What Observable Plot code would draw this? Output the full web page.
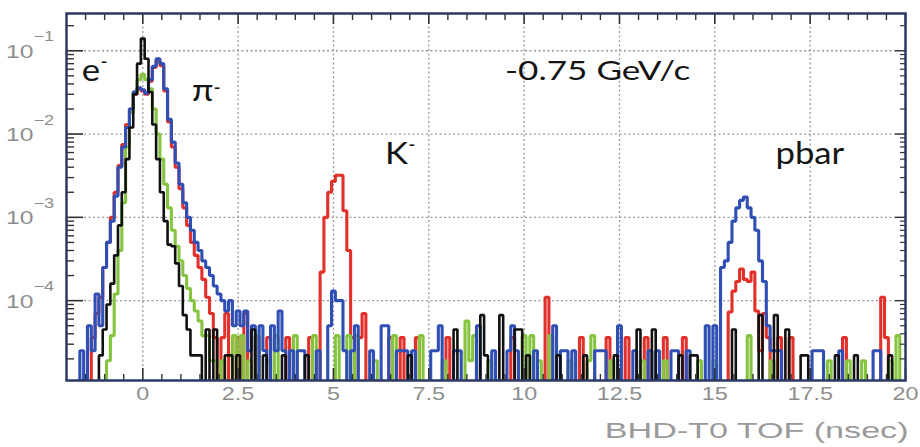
<!DOCTYPE html>
<html><head><meta charset="utf-8">
<script src="https://cdn.jsdelivr.net/npm/d3@7"></script>
<script src="https://cdn.jsdelivr.net/npm/@observablehq/plot@0.6"></script>
<style>body{margin:0;background:#fff}#chart svg{display:block}</style>
</head><body><div id="chart"></div>
<script>
// ---- data: [bin centre (ns), normalised counts]; bins are 0.1 ns wide, absent bins are empty ----
const BIN = 0.1;
const blackHist = [
 [-1.1,2.2e-5],[-1.0,4.5e-5],[-0.9,9e-5],[-0.8,1.6e-4],[-0.7,3.5e-4],[-0.6,8e-4],[-0.5,2e-3],[-0.4,5e-3],
 [-0.3,1.2e-2],[-0.2,3e-2],[-0.1,7e-2],[0.0,1.4e-1],[0.1,8e-2],[0.2,3.2e-2],[0.3,1.3e-2],[0.4,5e-3],
 [0.5,2e-3],[0.6,9e-4],[0.7,4.7e-4],[0.8,4.5e-4],[0.9,2.8e-4],[1.0,1.5e-4],[1.1,6.7e-5],[1.2,4.5e-5],
 [1.3,2.2e-5],[1.4,2.2e-5],[1.5,2.2e-5],[1.7,4.5e-5],[1.9,4.5e-5],[2.2,2.2e-5],[2.3,2.2e-5],
 [2.5,2.2e-5],[2.9,4.5e-5],[3.2,2.2e-5],[3.7,2.2e-5],[4.3,2.2e-5],[7.0,2.2e-5],[8.2,4.5e-5],[8.9,6.7e-5],[9.0,2.2e-5],
 [9.4,6.7e-5],[9.8,4.5e-5],[9.9,4.5e-5],[10.1,2.2e-5],[10.9,2.2e-5],[11.6,2.2e-5],[12.4,2.2e-5],[13.0,4.5e-5],[13.4,4.5e-5],
 [14.1,2.2e-5],[14.4,2.2e-5],[14.5,2.2e-5],[15.5,4.5e-5],[16.2,6.7e-5],[16.6,6.7e-5],[16.9,4.5e-5],
 [17.3,2.2e-5],[17.4,2.2e-5],[18.2,2.2e-5],[18.7,2.2e-5],[19.6,2.2e-5]
];
const redHist = [
 [-1.3,3.6e-5],[-1.2,7e-5],[-1.1,1.1e-4],[-1.0,2.5e-4],[-0.9,5e-4],[-0.8,1e-3],[-0.7,2e-3],[-0.6,4.2e-3],
 [-0.5,7.5e-3],[-0.4,1.3e-2],[-0.3,2e-2],[-0.2,3e-2],[-0.1,3.5e-2],[0.0,3.3e-2],[0.1,3e-2],[0.2,4.3e-2],
 [0.3,6.3e-2],[0.4,7.6e-2],[0.5,6.6e-2],[0.6,3.3e-2],[0.7,1.4e-2],[0.8,7e-3],[0.9,4e-3],[1.0,2.2e-3],
 [1.1,1.3e-3],[1.2,8e-4],[1.3,5e-4],[1.4,3.5e-4],[1.5,2.5e-4],[1.6,1.8e-4],[1.7,1.1e-4],[1.8,7e-5],
 [1.9,3.6e-5],[2.1,3.6e-5],[2.2,7e-5],[2.5,3.6e-5],[2.7,7e-5],[3.0,3.6e-5],[3.3,3.6e-5],[3.8,3.6e-5],
 [4.4,3.6e-5],[4.7,2.2e-4],[4.8,1e-3],[4.9,2e-3],[5.0,2.7e-3],[5.1,3.2e-3],[5.2,3.2e-3],[5.3,1.2e-3],
 [5.4,4e-4],[5.5,3.6e-5],[5.7,3.6e-5],[5.8,7e-5],[6.5,3.6e-5],[6.8,3.6e-5],[7.2,3.6e-5],[8.0,3.6e-5],
 [9.7,3.6e-5],[10.6,1.1e-4],[11.5,3.6e-5],[12.2,3.6e-5],[12.7,3.6e-5],[13.2,3.6e-5],[13.7,3.6e-5],
 [14.2,3.6e-5],[15.4,7.3e-5],[15.5,1.3e-4],[15.6,1.7e-4],[15.7,2.4e-4],[15.8,1.8e-4],[15.9,1.7e-4],
 [16.0,2.2e-4],[16.1,7.5e-5],[16.2,2.5e-5],[16.3,7e-5],[16.4,3.6e-5],[16.7,3.6e-5],[17.0,3.6e-5],
 [18.4,3.6e-5],[19.4,1.1e-4],[19.5,3.6e-5]
];
const greenHist = [
 [-0.9,1.9e-5],[-0.8,3.8e-5],[-0.7,1.2e-4],[-0.6,4e-4],[-0.5,1.5e-3],[-0.4,7e-3],[-0.3,1.8e-2],[-0.2,3.2e-2],
 [-0.1,4.5e-2],[0.0,5.2e-2],[0.1,4.5e-2],[0.2,3.5e-2],[0.3,2e-2],[0.4,1e-2],[0.5,5e-3],[0.6,2.5e-3],
 [0.7,1.3e-3],[0.8,7e-4],[0.9,4.5e-4],[1.0,3e-4],[1.1,2e-4],[1.2,1.4e-4],[1.3,1e-4],[1.4,7.5e-5],
 [1.5,5.7e-5],[1.6,3.8e-5],[1.7,3.8e-5],[1.8,1.9e-5],[1.9,1.9e-5],[2.1,1.9e-5],[2.4,3.8e-5],[2.6,3.8e-5],
 [2.8,1.9e-5],[3.0,3.8e-5],[3.3,1.9e-5],[3.5,3.8e-5],[4.0,3.8e-5],[4.5,3.8e-5],[5.1,3.8e-5],[5.4,3.8e-5],
 [5.6,3.8e-5],[6.1,1.9e-5],[6.6,3.8e-5],[7.3,3.8e-5],[7.9,1.9e-5],[8.5,5.7e-5],[8.6,1.9e-5],[8.7,3.8e-5],[9.1,1.9e-5],
 [10.0,3.8e-5],[10.2,3.8e-5],[10.4,1.9e-5],[10.7,3.8e-5],[11.2,1.9e-5],[11.7,1.9e-5],[11.8,3.8e-5],[12.3,1.9e-5],
 [13.1,1.9e-5],[13.7,1.9e-5],[14.6,1.9e-5],[15.0,1.9e-5],[15.9,3.8e-5],[16.5,1.9e-5],[18.0,1.9e-5],
 [18.5,1.9e-5],[18.9,1.9e-5],[19.6,1.9e-5],[19.8,3.8e-5]
];
const blueHist = [
 [-1.6,2.5e-5],[-1.4,5e-5],[-1.3,2.5e-5],[-1.2,1.2e-4],[-1.1,5e-5],[-1.0,2.5e-4],[-0.9,5e-4],[-0.8,9e-4],
 [-0.7,1.8e-3],[-0.6,4e-3],[-0.5,7e-3],[-0.4,1.2e-2],[-0.3,2e-2],[-0.2,3.2e-2],[-0.1,3.6e-2],[0.0,3.4e-2],
 [0.1,3.1e-2],[0.2,4.5e-2],[0.3,6.5e-2],[0.4,8e-2],[0.5,7e-2],[0.6,3.5e-2],[0.7,1.5e-2],[0.8,8e-3],
 [0.9,4.5e-3],[1.0,2.5e-3],[1.1,1.5e-3],[1.2,1e-3],[1.3,7e-4],[1.4,5e-4],[1.5,4e-4],[1.6,3e-4],
 [1.7,2.5e-4],[1.8,2e-4],[1.9,1.5e-4],[2.0,1.2e-4],[2.1,1e-4],[2.2,7.5e-5],[2.3,1e-4],[2.4,5e-5],
 [2.5,7.5e-5],[2.6,5e-5],[2.7,7.5e-5],[2.8,2.5e-5],[2.9,5e-5],[3.1,5e-5],[3.2,2.5e-5],[3.4,5e-5],
 [3.5,2.5e-5],[3.6,7.5e-5],[3.7,2.5e-5],[3.9,2.5e-5],[4.1,2.5e-5],[4.2,2.5e-5],[4.6,2.5e-5],[4.9,5e-5],
 [5.0,1.3e-4],[5.1,1e-4],[5.2,1e-4],[5.3,2.5e-5],[5.5,2.5e-5],[5.6,5e-5],[6.0,2.5e-5],[6.3,5e-5],
 [6.4,5e-5],[6.7,2.5e-5],[6.8,2.5e-5],[6.9,2.5e-5],[7.1,2.5e-5],[7.6,2.5e-5],[7.7,2.5e-5],[7.8,5e-5],
 [8.2,2.5e-5],[8.3,2.5e-5],[8.8,5e-5],[9.2,2.5e-5],[9.6,2.5e-5],[9.7,5e-5],[9.8,2.5e-5],[10.3,2.5e-5],[10.8,5e-5],
 [11.0,2.5e-5],[11.1,2.5e-5],[11.3,2.5e-5],[11.9,2.5e-5],[12.0,2.5e-5],[12.1,2.5e-5],[12.5,5e-5],[12.9,2.5e-5],
 [13.3,2.5e-5],[13.5,2.5e-5],[13.9,2.5e-5],[14.0,2.5e-5],[14.3,2.5e-5],[14.8,5e-5],[15.0,5e-5],[15.2,2.5e-4],
 [15.3,3e-4],[15.4,5e-4],[15.5,9e-4],[15.6,1.3e-3],[15.7,1.6e-3],[15.8,1.75e-3],[15.9,1.3e-3],
 [16.0,1e-3],[16.1,7e-4],[16.2,3e-4],[16.3,1.7e-4],[16.4,5e-5],[16.5,2.5e-5],[16.6,2.5e-5],[16.7,2.5e-5],
 [17.6,2.5e-5],[17.7,2.5e-5],[17.8,2.5e-5],[18.3,2.5e-5],[19.2,2.5e-5],[19.3,2.5e-5]
];
const seriesNames = ["red","green","blue","black"];
const seriesColors = ["#e2302b","#86c440","#2f4fb4","#111111"];

const xTicks = [0,2.5,5,7.5,10,12.5,15,17.5,20];
const xTickLabels = ["0","2.5","5","7.5","10","12.5","15","17.5","20"];
const yDecades = [1e-4,1e-3,1e-2,1e-1];
const yExponents = ["−4","−3","−2","−1"];
const xTitle = "BHD-T0 TOF (nsec)";
const labels = [
  {x:-1.6, y:0.0436, t:"e"},
  {x:1.29, y:0.0251, t:"π"},
  {x:6.35, y:0.0044, t:"K"},
  {x:16.59, y:0.0044, t:"pbar"}
];
const supers = [{x:-1.1, y:0.074, t:"-"},{x:1.86, y:0.036, t:"-"},{x:6.97, y:0.0074, t:"-"}];
const momentum = [{x:9.5, y:0.0449, t:"-0.75 GeV/c"}];

// ---- build ----
const FLOOR = 1e-7;
function steps(pairs, name) {
  const m = new Map(pairs.map(([c, v]) => [Math.round(c * 10), v]));
  const out = [];
  for (let k = -21; k <= 201; k++) {
    const c = k / 10, v = m.has(k) ? m.get(k) : FLOOR;
    out.push({s: name, x: c - BIN / 2, y: v}, {s: name, x: c + BIN / 2, y: v});
  }
  return out;
}
const hists = {red: redHist, green: greenHist, blue: blueHist, black: blackHist};

const W = 920, H = 447, mL = 66, mR = 15, mT = 13, mB = 67;
const fW = W - mL - mR, fH = H - mT - mB;
const yMinor = [];
for (const d of [1e-5,1e-4,1e-3,1e-2,1e-1]) for (let k = 2; k <= 9; k++) { const v = d * k; if (v > 1.1e-5 && v < 0.28) yMinor.push(v); }
const xMinor = d3.range(-1.5, 20.01, 0.5).filter(v => Math.abs(v / 2.5 - Math.round(v / 2.5)) > 1e-6);
const tickC = "#333";
const gray = "#8e8e8e";
const AX = "Liberation Sans";
const AX2 = "Liberation Sans, Arial";

const plot = Plot.plot({
  width: W, height: H, marginLeft: mL, marginRight: mR, marginTop: mT, marginBottom: mB,
  style: {background: "#fff"},
  x: {domain: [-2, 20], axis: null},
  y: {type: "log", domain: [1.1e-5, 0.28], axis: null},
  marks: [
    Plot.ruleX(xTicks.slice(0, -1), {stroke: "#9a9a9a", strokeWidth: 1.3, strokeDasharray: "2,2.5"}),
    Plot.ruleY(yDecades, {stroke: "#9a9a9a", strokeWidth: 1.3, strokeDasharray: "2,2.5"}),
    ...seriesNames.map((n, i) => Plot.line(steps(hists[n], n), {
      x: "x", y: "y", stroke: seriesColors[i], strokeWidth: n === "black" ? 2.6 : 3.1,
      clip: true, strokeLinejoin: "miter", strokeLinecap: "butt"
    })),
    // ticks
    Plot.tickX(xMinor, {x: d => d, insetTop: fH - 6, stroke: tickC, strokeWidth: 1.4}),
    Plot.tickX(xTicks, {x: d => d, insetTop: fH - 12, stroke: tickC, strokeWidth: 1.6}),
    Plot.tickX(xMinor, {x: d => d, insetBottom: fH - 7, stroke: tickC, strokeWidth: 1.4}),
    Plot.tickX(xTicks, {x: d => d, insetBottom: fH - 11, stroke: tickC, strokeWidth: 1.6}),
    Plot.tickY(yMinor, {y: d => d, insetRight: fW - 8, stroke: tickC, strokeWidth: 1.4}),
    Plot.tickY(yDecades, {y: d => d, insetRight: fW - 17, stroke: tickC, strokeWidth: 1.6}),
    Plot.tickY(yMinor, {y: d => d, insetLeft: fW - 5, stroke: tickC, strokeWidth: 1.2}),
    Plot.tickY(yDecades, {y: d => d, insetLeft: fW - 10, stroke: tickC, strokeWidth: 1.4}),
    Plot.frame({stroke: "#2b3866", strokeWidth: 2.5}),
    // axis labels
    Plot.text(xTicks, {x: d => d, text: (d, i) => xTickLabels[i], frameAnchor: "bottom", dy: 19,
      fontSize: 18, fill: gray, fontFamily: AX}),
    Plot.text(yDecades, {y: d => d, text: () => "10", frameAnchor: "left", textAnchor: "end", dx: -33, dy: 1,
      fontSize: 19, fill: gray, fontFamily: AX}),
    Plot.text(yDecades, {y: d => d, text: (d, i) => yExponents[i], frameAnchor: "left", textAnchor: "start",
      dx: -33, dy: -14, fontSize: 14, fill: gray, fontFamily: AX}),
    Plot.text([xTitle], {text: d => d, frameAnchor: "bottom-right", textAnchor: "end", dx: 3, dy: 57,
      fontSize: 22, fill: "#9a9a9a", fontFamily: AX2}),
    // annotations
    Plot.text(labels, {x: "x", y: "y", text: "t", textAnchor: "start", lineAnchor: "bottom",
      fontSize: 31, fill: "#151515", fontFamily: "Lato"}),
    Plot.text(supers, {x: "x", y: "y", text: "t", textAnchor: "start", fontSize: 16, fontWeight: "bold",
      fill: "#151515", fontFamily: "Lato"}),
    Plot.text(momentum, {x: "x", y: "y", text: "t", textAnchor: "start", lineAnchor: "bottom",
      fontSize: 27, fill: "#151515", fontFamily: "Lato, sans-serif"})
  ]
});
// horizontal stretch of the lettering, as in the original figure
const stretch = {[AX]: 1.3, [AX2]: 1.55, "Lato": 1.12, "Lato, sans-serif": 1.3};
plot.querySelectorAll("g").forEach(g => {
  const s = stretch[g.getAttribute("font-family")];
  if (s) g.querySelectorAll("text").forEach(t => t.setAttribute("transform", (t.getAttribute("transform") || "") + ` scale(${s},1)`));
});
document.getElementById("chart").appendChild(plot);
</script></body></html>
